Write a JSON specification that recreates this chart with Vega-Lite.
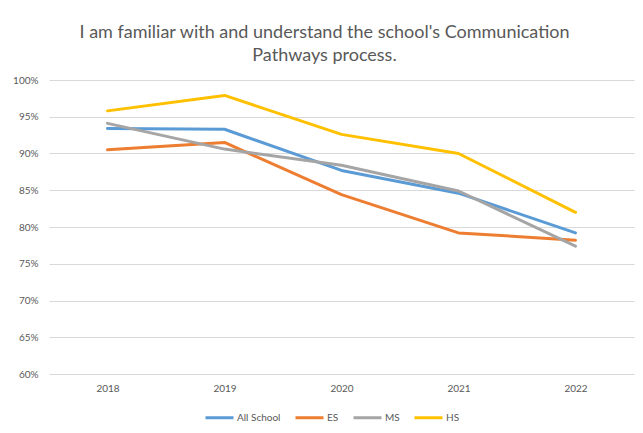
{
  "$schema": "https://vega.github.io/schema/vega-lite/v6.json",
  "autosize": "none",
  "width": 585,
  "height": 294,
  "padding": {"left": 49, "top": 80, "right": 9, "bottom": 59},
  "background": "white",
  "title": {
    "text": ["I am familiar with and understand the school's Communication", "Pathways process."],
    "font": "Lato",
    "fontSize": 18,
    "fontWeight": "normal",
    "color": "#595959",
    "anchor": "middle",
    "dx": -17,
    "offset": 10,
    "lineHeight": 23
  },
  "data": {
    "values": [
      {"year": "2018", "group": "All School", "value": 0.934},
      {"year": "2019", "group": "All School", "value": 0.933},
      {"year": "2020", "group": "All School", "value": 0.877},
      {"year": "2021", "group": "All School", "value": 0.846},
      {"year": "2022", "group": "All School", "value": 0.792},
      {"year": "2018", "group": "ES", "value": 0.905},
      {"year": "2019", "group": "ES", "value": 0.915},
      {"year": "2020", "group": "ES", "value": 0.844},
      {"year": "2021", "group": "ES", "value": 0.792},
      {"year": "2022", "group": "ES", "value": 0.782},
      {"year": "2018", "group": "MS", "value": 0.941},
      {"year": "2019", "group": "MS", "value": 0.906},
      {"year": "2020", "group": "MS", "value": 0.884},
      {"year": "2021", "group": "MS", "value": 0.849},
      {"year": "2022", "group": "MS", "value": 0.774},
      {"year": "2018", "group": "HS", "value": 0.958},
      {"year": "2019", "group": "HS", "value": 0.979},
      {"year": "2020", "group": "HS", "value": 0.926},
      {"year": "2021", "group": "HS", "value": 0.900},
      {"year": "2022", "group": "HS", "value": 0.820}
    ]
  },
  "mark": {"type": "line", "strokeWidth": 3, "strokeJoin": "round", "strokeCap": "round"},
  "encoding": {
    "x": {
      "field": "year",
      "type": "ordinal",
      "scale": {"type": "point", "padding": 0.5},
      "axis": {
        "title": null,
        "labelAngle": 0,
        "domain": false,
        "ticks": false,
        "labelPadding": 9,
        "labelFont": "Lato",
        "labelFontSize": 10,
        "labelColor": "#595959",
        "grid": false
      }
    },
    "y": {
      "field": "value",
      "type": "quantitative",
      "scale": {"domain": [0.6, 1.0], "nice": false, "zero": false},
      "axis": {
        "title": null,
        "values": [0.6, 0.65, 0.7, 0.75, 0.8, 0.85, 0.9, 0.95, 1.0],
        "format": ".0%",
        "domain": false,
        "ticks": false,
        "labelPadding": 11,
        "labelFont": "Lato",
        "labelFontSize": 10,
        "labelColor": "#595959",
        "gridColor": "#D9D9D9",
        "gridWidth": 1
      }
    },
    "color": {
      "field": "group",
      "type": "nominal",
      "sort": ["All School", "ES", "MS", "HS"],
      "scale": {
        "domain": ["All School", "ES", "MS", "HS"],
        "range": ["#5B9BD5", "#ED7D31", "#A5A5A5", "#FFC000"]
      },
      "legend": {
        "title": null,
        "orient": "none",
        "direction": "horizontal",
        "legendX": 155,
        "legendY": 322,
        "symbolType": "stroke",
        "symbolStrokeWidth": 3,
        "symbolSize": 784,
        "labelFont": "Lato",
        "labelFontSize": 10,
        "labelColor": "#595959",
        "labelOffset": 2,
        "columnPadding": 8
      }
    }
  },
  "config": {
    "view": {"stroke": null}
  }
}
